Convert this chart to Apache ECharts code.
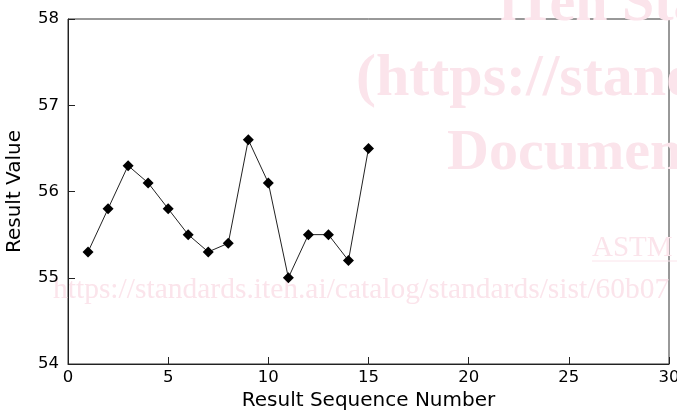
<!DOCTYPE html>
<html>
<head>
<meta charset="utf-8">
<script src="https://cdn.jsdelivr.net/npm/echarts@6/dist/echarts.min.js"></script>
<style>
html,body{margin:0;padding:0;background:#fff;}
#c{width:677px;height:413px;}
</style>
</head>
<body>
<div id="c"></div>
<script>
var sequenceNumbers = [1, 2, 3, 4, 5, 6, 7, 8, 9, 10, 11, 12, 13, 14, 15];
var resultValues = [55.3, 55.8, 56.3, 56.1, 55.8, 55.5, 55.3, 55.4, 56.6, 56.1, 55.0, 55.5, 55.5, 55.2, 56.5];
var xTicks = [0, 5, 10, 15, 20, 25, 30];
var yTicks = [54, 55, 56, 57, 58];
var watermarkLines = ["iTeh Standards", "(https://standards.iteh.ai)", "Document Preview"];
var watermarkAstm = "ASTM";
var watermarkUrl = "https://standards.iteh.ai/catalog/standards/sist/60b07";

var pts = sequenceNumbers.map(function (s, i) { return [s, resultValues[i]]; });
var wmColor = '#fbe4eb';
var chart = echarts.init(document.getElementById('c'), null, {renderer: 'canvas'});
var axisFont = 'DejaVu Sans';
chart.setOption({
  animation: false,
  backgroundColor: '#fff',
  graphic: [
    {type: 'text', z: 0, style: {text: watermarkLines[0], x: 500, y: 5, font: 'bold 58px "Liberation Serif"', fill: wmColor, textVerticalAlign: 'middle'}},
    {type: 'text', z: 0, style: {text: watermarkLines[1], x: 356, y: 79, font: 'bold 60px "Liberation Serif"', fill: wmColor, textVerticalAlign: 'middle'}},
    {type: 'text', z: 0, style: {text: watermarkLines[2], x: 447, y: 154, font: 'bold 58px "Liberation Serif"', fill: wmColor, textVerticalAlign: 'middle'}},
    {type: 'text', z: 0, style: {text: watermarkAstm, x: 592, y: 248, font: '29px "Liberation Serif"', fill: wmColor, textVerticalAlign: 'middle'}},
    {type: 'line', z: 0, shape: {x1: 592, y1: 261, x2: 677, y2: 261}, style: {stroke: wmColor, lineWidth: 1}},
    {type: 'text', z: 0, style: {text: watermarkUrl, x: 53, y: 290, font: '29.5px "Liberation Serif"', fill: wmColor, textVerticalAlign: 'middle'}}
  ],
  grid: {left: 68, right: 8, top: 19, bottom: 49, outerBoundsMode: 'none', containLabel: false, show: true, borderColor: '#333', borderWidth: 1, backgroundColor: 'transparent'},
  xAxis: {
    type: 'value', min: xTicks[0], max: xTicks[xTicks.length - 1], interval: 5,
    name: 'Result Sequence Number', nameLocation: 'middle', nameGap: 27,
    nameTextStyle: {fontFamily: axisFont, fontSize: 20, color: '#000'},
    axisLine: {show: true, lineStyle: {color: '#222', width: 1}},
    axisTick: {show: true, inside: true, length: 7, lineStyle: {color: '#222'}},
    axisLabel: {fontFamily: axisFont, fontSize: 16.5, color: '#000', margin: 5},
    splitLine: {show: false}
  },
  yAxis: {
    type: 'value', min: yTicks[0], max: yTicks[yTicks.length - 1], interval: 1,
    name: 'Result Value', nameLocation: 'middle', nameGap: 43,
    nameTextStyle: {fontFamily: axisFont, fontSize: 20, color: '#000'},
    axisLine: {show: true, lineStyle: {color: '#222', width: 1}},
    axisTick: {show: true, inside: true, length: 7, lineStyle: {color: '#222'}},
    axisLabel: {fontFamily: axisFont, fontSize: 16.5, color: '#000', margin: 9},
    splitLine: {show: false}
  },
  series: [{
    type: 'line', data: pts, z: 5,
    symbol: 'diamond', symbolSize: 11,
    itemStyle: {color: '#000'},
    lineStyle: {color: '#222', width: 1}
  }]
});
</script>
</body>
</html>
